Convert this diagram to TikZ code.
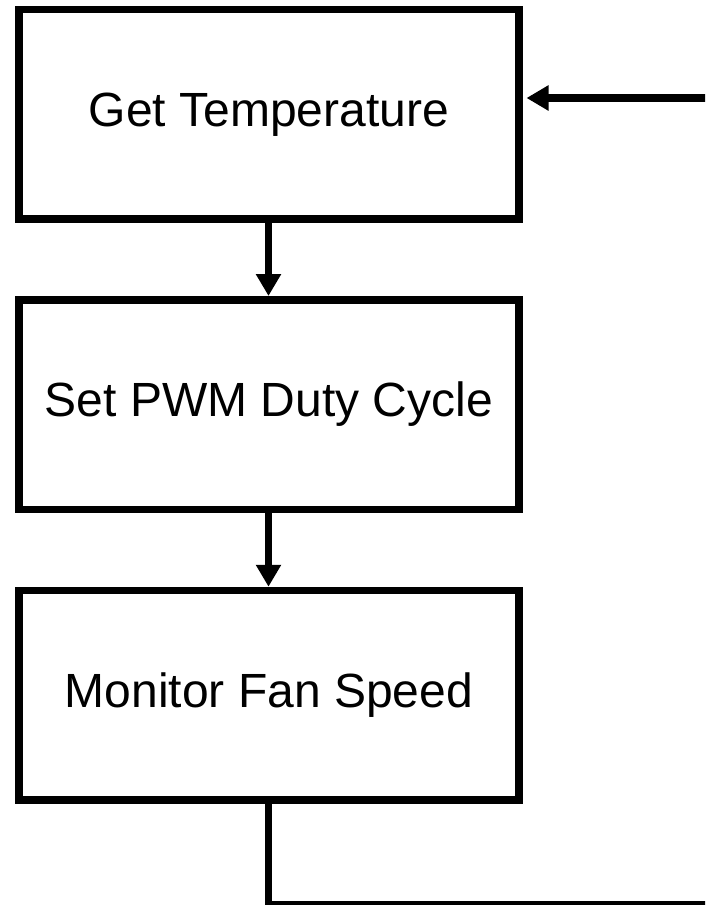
\documentclass[tikz,border=0pt]{standalone}
\usepackage{fontspec}
\setmainfont{Liberation Sans}
\usetikzlibrary{arrows.meta}
\tikzset{
  stepbox/.style={draw=black, line width=7.5pt, minimum width=500pt, minimum height=209.5pt,
    inner sep=0pt, font=\fontsize{48}{58}\selectfont, fill=white},
  flow/.style={line width=7.5pt, -{Triangle[length=22pt,width=24pt]}},
  loopline/.style={line width=7.5pt}
}
\begin{document}
\begin{tikzpicture}[x=1pt,y=-1pt]
\clip (0,0) rectangle (705,905);
\fill[white] (0,0) rectangle (705,905);
\node[stepbox] (b1) at (269,114.25) {Get Temperature};
\node[stepbox] (b2) at (269,404.5) {Set PWM Duty Cycle};
\node[stepbox] (b3) at (269,695.25) {Monitor Fan Speed};
\coordinate (c1) at (268.5,904.5);
\coordinate (c2) at (730,904.5);
\coordinate (c3) at (730,98);
\coordinate (c4) at (526.5,98);
\draw[flow] ([xshift=-0.5pt]b1.south) -- ([xshift=-0.5pt]b2.north);
\draw[flow] ([xshift=-0.5pt]b2.south) -- ([xshift=-0.5pt]b3.north);
\draw[loopline] ([xshift=-0.5pt]b3.south) -- (c1) -- (c2) -- (c3);
\draw[flow] (c3) -- (c4);
\end{tikzpicture}
\end{document}
